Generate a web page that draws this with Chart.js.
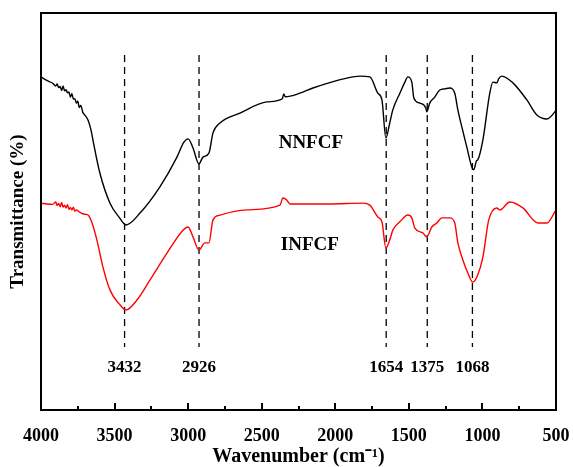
<!DOCTYPE html>
<html>
<head>
<meta charset="utf-8">
<script src="https://cdn.jsdelivr.net/npm/chart.js@4"></script>
<style>
  body { margin: 0; background: #fff; }
  #wrap { width: 573px; height: 467px; }
</style>
</head>
<body>
<div id="wrap"><canvas id="ftir" width="573" height="467"></canvas></div>
<script>
// NNFCF spectrum (black), wavenumber in cm-1 and transmittance in arbitrary units
const nnfcfWave = [4000, 3960, 3920, 3900, 3890, 3880, 3870, 3860, 3850, 3840, 3830, 3820, 3810, 3800, 3790, 3780, 3770, 3760, 3750, 3740, 3730, 3715, 3700, 3680, 3660, 3647, 3600, 3531, 3470, 3422, 3327, 3192, 3076, 3030, 3000, 2967, 2927, 2899, 2859, 2831, 2784, 2648, 2465, 2360, 2350, 2340, 2240, 2152, 1921, 1833, 1765, 1711, 1683, 1656, 1630, 1609, 1561, 1527, 1507, 1480, 1466, 1426, 1385, 1378, 1358, 1324, 1290, 1255, 1222, 1188, 1167, 1140, 1106, 1072, 1059, 1040, 1032, 997, 950, 929, 902, 890, 868, 793, 698, 630, 562, 508, 500]
const nnfcfT = [83.9, 83.0, 82.3, 81.6, 82.1, 81.2, 81.5, 80.5, 81.6, 80.4, 80.7, 79.9, 80.1, 78.8, 79.7, 78.3, 78.4, 77.3, 77.8, 76.2, 76.7, 74.9, 74.2, 73.0, 70.5, 68.0, 59.7, 52.1, 48.6, 46.6, 49.6, 56.2, 63.7, 67.4, 68.3, 66.0, 62.0, 63.7, 64.7, 69.8, 72.3, 74.8, 77.6, 78.4, 79.6, 78.9, 79.8, 81.1, 83.6, 84.1, 83.9, 79.8, 78.1, 68.5, 72.3, 75.6, 79.8, 82.6, 83.9, 82.6, 78.6, 77.3, 76.1, 75.1, 77.3, 78.8, 80.6, 80.9, 81.1, 79.8, 75.6, 71.3, 66.2, 61.2, 60.5, 62.8, 63.0, 68.0, 79.8, 82.6, 82.4, 83.4, 84.1, 82.4, 78.1, 74.3, 73.3, 75.1, 75.6]

// INFCF spectrum (red)
const infcfWave = [4000, 3960, 3920, 3900, 3890, 3880, 3870, 3860, 3850, 3840, 3830, 3820, 3810, 3800, 3790, 3780, 3770, 3760, 3740, 3720, 3700, 3680, 3653, 3620, 3579, 3531, 3470, 3422, 3348, 3260, 3144, 3035, 3000, 2967, 2927, 2886, 2859, 2831, 2784, 2601, 2376, 2356, 2330, 2308, 2036, 1812, 1765, 1711, 1683, 1656, 1630, 1609, 1561, 1507, 1480, 1459, 1405, 1378, 1344, 1310, 1276, 1222, 1188, 1167, 1133, 1099, 1066, 1032, 997, 957, 902, 882, 813, 725, 623, 562, 500]
const infcfT = [52.1, 51.9, 51.8, 52.4, 51.5, 52.0, 51.2, 52.3, 51.1, 51.6, 50.9, 51.7, 50.5, 51.0, 50.4, 51.1, 50.1, 50.4, 49.9, 49.5, 49.3, 49.1, 47.1, 42.8, 36.0, 30.2, 26.8, 25.2, 27.7, 32.7, 39.5, 45.3, 46.1, 43.6, 40.3, 42.1, 42.1, 47.9, 49.1, 50.4, 51.6, 53.4, 52.9, 51.9, 51.9, 52.1, 51.6, 48.6, 47.4, 40.8, 42.8, 45.3, 47.4, 49.1, 48.4, 45.8, 44.6, 43.6, 46.1, 47.1, 48.4, 48.4, 47.1, 42.1, 37.8, 34.5, 32.2, 34.0, 38.5, 47.9, 50.9, 50.4, 52.4, 50.9, 47.1, 47.1, 50.4]

// marked absorption bands
const peaks = [3432, 2926, 1654, 1375, 1068]
const peakTop = 89.4
const peakBottom = 15.9

const seriesNames = ['NNFCF', 'INFCF']

function toPoints(xs, ys) {
  return xs.map((x, i) => ({ x: x, y: ys[i] }))
}

const serif = 'Liberation Serif, Times New Roman, serif'

const datasets = [
  { label: seriesNames[0], data: toPoints(nnfcfWave, nnfcfT), borderColor: '#000000', borderWidth: 1.4, cubicInterpolationMode: 'monotone' },
  { label: seriesNames[1], data: toPoints(infcfWave, infcfT), borderColor: '#ff0000', borderWidth: 1.4, cubicInterpolationMode: 'monotone' }
]
peaks.forEach(p => {
  datasets.push({
    label: String(p),
    data: [{ x: p, y: peakTop }, { x: p, y: peakBottom }],
    borderColor: '#000000',
    borderWidth: 1.3,
    borderDash: [7, 5]
  })
})

const decorations = {
  id: 'decorations',
  beforeDraw(chart) {
    const c = chart.ctx
    c.save()
    c.fillStyle = '#fff'
    c.fillRect(0, 0, chart.width, chart.height)
    c.restore()
  },
  afterDraw(chart) {
    const c = chart.ctx
    const area = chart.chartArea
    const xs = chart.scales.x
    const ys = chart.scales.y
    c.save()
    // frame
    c.strokeStyle = '#000'
    c.lineWidth = 2
    c.strokeRect(area.left, area.top, area.right - area.left, area.bottom - area.top)
    // inward ticks on bottom axis
    xs.ticks.forEach(t => {
      if (t.value <= xs.min || t.value >= xs.max) return
      const px = Math.round(xs.getPixelForValue(t.value))
      const len = t.value % 500 === 0 ? 7 : 4
      c.beginPath()
      c.moveTo(px, area.bottom)
      c.lineTo(px, area.bottom - len)
      c.stroke()
    })
    // peak labels
    c.fillStyle = '#000'
    c.font = 'bold 17px ' + serif
    c.textAlign = 'center'
    c.textBaseline = 'middle'
    peaks.forEach(p => {
      c.fillText(String(p), xs.getPixelForValue(p), ys.getPixelForValue(10.6))
    })
    // series names
    c.font = 'bold 19px ' + serif
    c.fillText(seriesNames[0], xs.getPixelForValue(2166), ys.getPixelForValue(67.3))
    c.fillText(seriesNames[1], xs.getPixelForValue(2173), ys.getPixelForValue(41.6))
    c.restore()
  }
}

new Chart(document.querySelector('#ftir'), {
  type: 'line',
  data: { datasets: datasets },
  options: {
    responsive: false,
    animation: false,
    layout: { padding: { top: 13, right: 17, left: 0, bottom: 0 } },
    elements: { point: { radius: 0 }, line: { tension: 0 } },
    scales: {
      x: {
        type: 'linear',
        reverse: true,
        min: 500,
        max: 4000,
        grid: { display: false },
        border: { display: false },
        ticks: {
          stepSize: 250,
          autoSkip: false,
          maxRotation: 0,
          padding: 8,
          color: '#000',
          font: { family: serif, size: 18, weight: 'bold' },
          callback: v => (v % 500 === 0 ? v : '')
        },
        title: {
          display: true,
          text: 'Wavenumber (cm⁻¹)',
          color: '#000',
          font: { family: serif, size: 20, weight: 'bold', lineHeight: 1 },
          padding: { top: 0, bottom: 0 }
        },
        afterFit(scale) {
          scale.height = 57
          scale.paddingLeft = 0
          scale.paddingRight = 0
        }
      },
      y: {
        min: 0,
        max: 100,
        grid: { display: false },
        border: { display: false },
        ticks: { display: false },
        title: {
          display: true,
          text: 'Transmittance (%)',
          color: '#000',
          font: { family: serif, size: 19, weight: 'bold' },
          padding: { top: 7, bottom: 0 }
        },
        afterFit(scale) { scale.width = 41 }
      }
    },
    plugins: {
      legend: false,
      tooltip: { enabled: false }
    }
  },
  plugins: [decorations]
})
</script>
</body>
</html>
